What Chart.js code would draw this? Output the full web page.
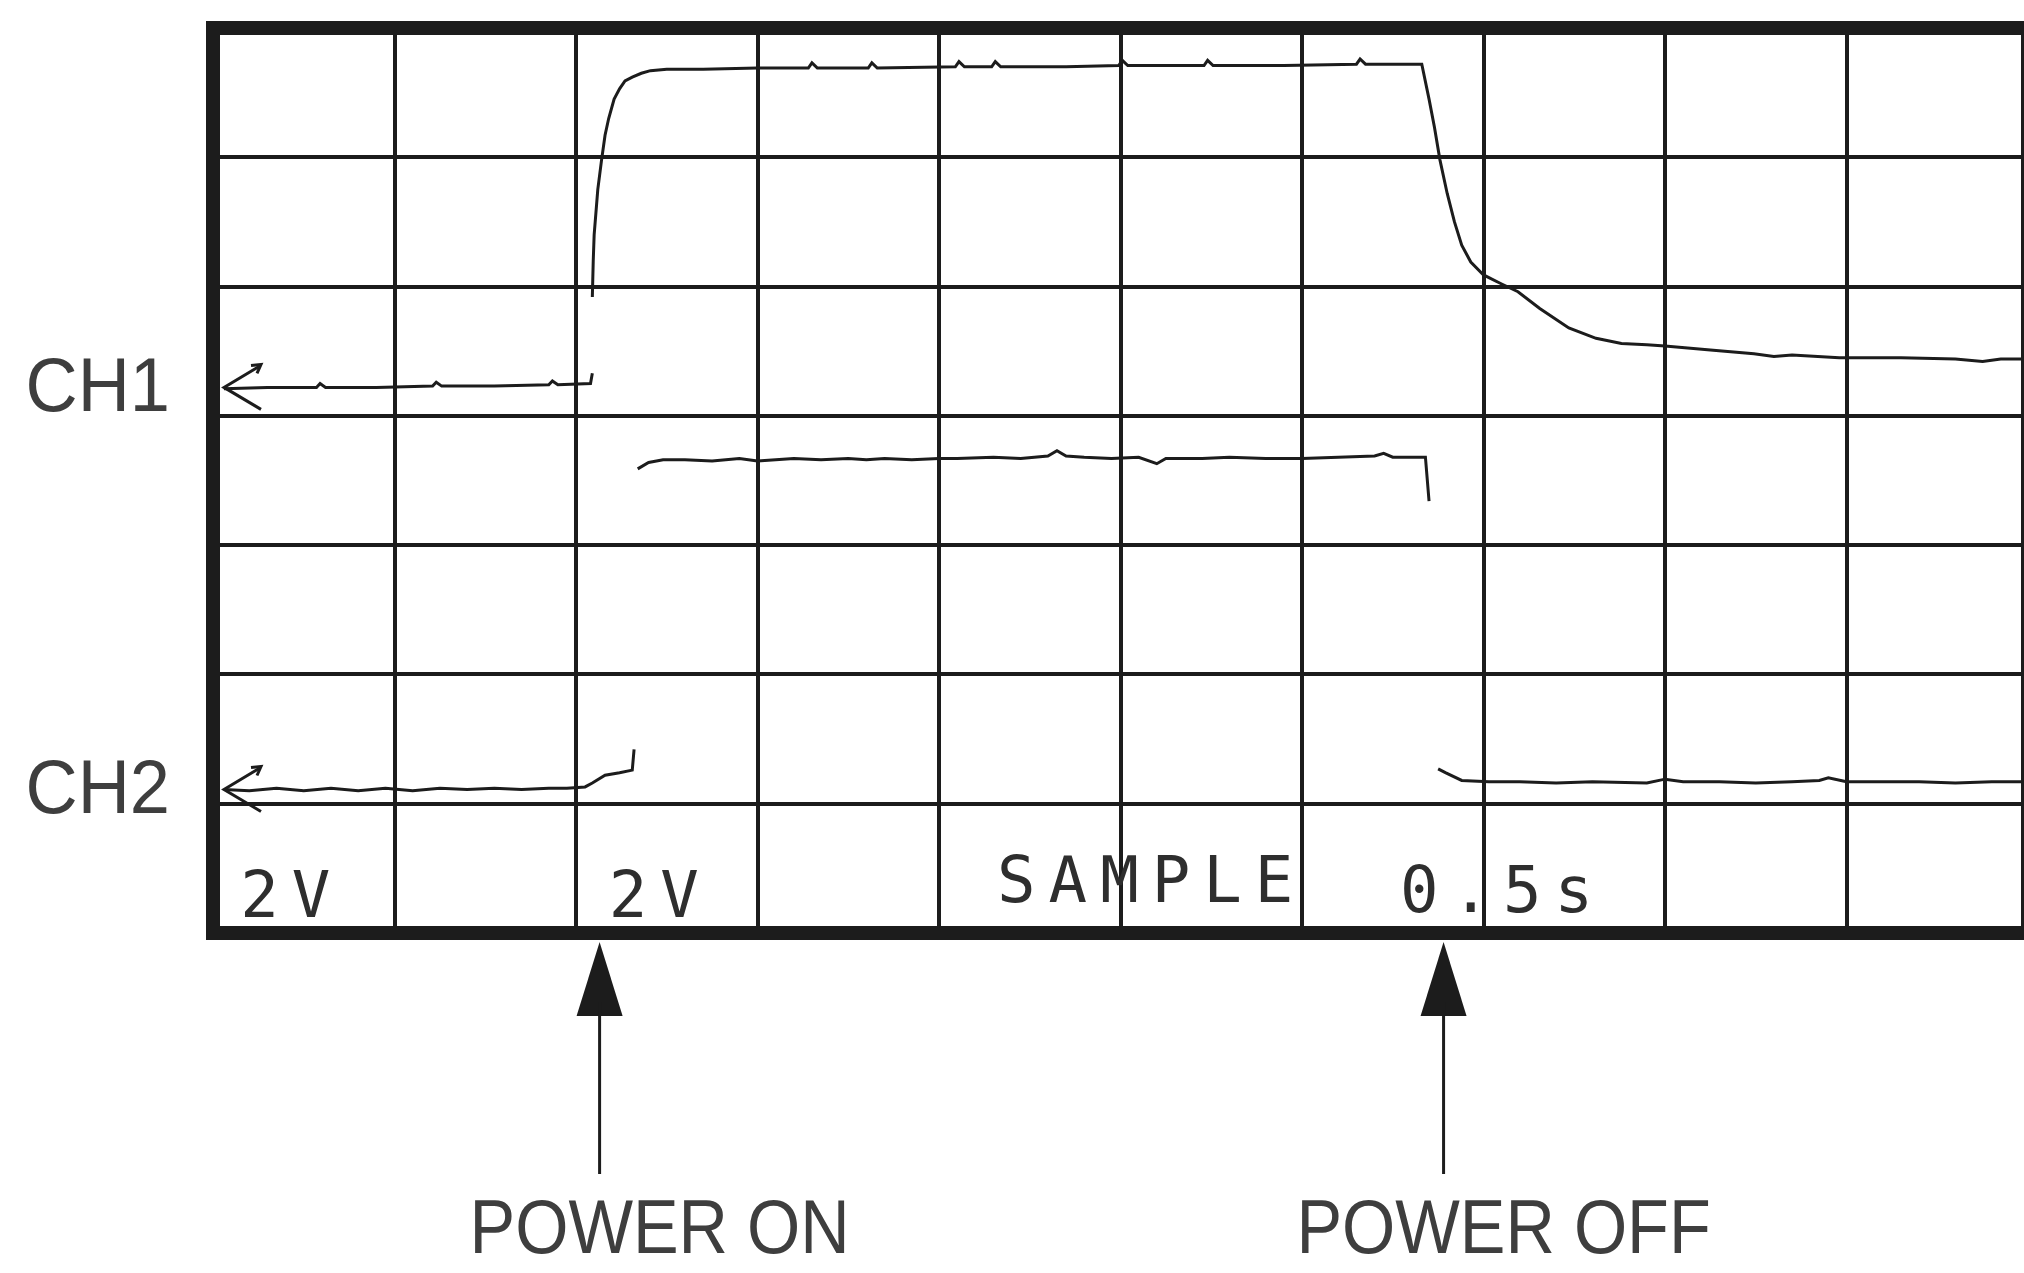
<!DOCTYPE html>
<html><head><meta charset="utf-8">
<script src="https://cdn.jsdelivr.net/npm/chart.js@4.4.1/dist/chart.umd.min.js"></script>
<style>
html,body{margin:0;padding:0;background:#fff;overflow:hidden;}
#wrap{width:2060px;height:1273px;position:relative;}
</style></head>
<body><div id="wrap"><canvas id="c"></canvas></div>
<script>
// ---- data (x in horizontal divisions, y in vertical divisions) ----
const ch1X = [0.06,0.3,0.57,0.59,0.62,0.9,1.21,1.23,1.26,1.55,1.85,1.87,1.90,2.08,2.09,
  2.09,
  2.09,2.095,2.10,2.12,2.14,2.16,2.18,2.21,2.24,2.27,2.31,2.36,2.41,2.5,2.7,
  3.0,3.28,3.30,3.33,3.61,3.63,3.66,4.09,4.11,4.14,4.29,4.31,4.34,4.7,4.99,5.01,5.04,5.46,5.48,5.51,5.9,6.30,6.32,6.35,6.66,
  6.70,6.73,6.76,6.80,6.84,6.88,6.93,7.0,7.1,7.19,7.31,7.47,7.62,7.76,7.90,8.0,8.25,8.49,8.6,8.7,8.96,9.3,9.6,9.75,9.85,10.0];
const ch1Y = [4.21,4.22,4.22,4.25,4.22,4.22,4.23,4.26,4.23,4.23,4.24,4.27,4.24,4.25,4.33,
  null,
  4.92,5.20,5.40,5.75,5.97,6.17,6.30,6.45,6.53,6.59,6.62,6.65,6.67,6.68,6.68,
  6.69,6.69,6.73,6.69,6.69,6.73,6.69,6.70,6.74,6.70,6.70,6.74,6.70,6.70,6.71,6.75,6.71,6.71,6.75,6.71,6.71,6.72,6.76,6.72,6.72,
  6.45,6.23,5.98,5.72,5.50,5.32,5.19,5.09,5.02,4.96,4.83,4.68,4.60,4.56,4.55,4.54,4.51,4.48,4.46,4.47,4.45,4.45,4.44,4.42,4.44,4.44];

const ch2X = [0.06,0.2,0.35,0.5,0.65,0.8,0.95,1.1,1.25,1.4,1.55,1.7,1.85,1.95,2.05,2.09,2.16,2.24,2.31,2.32,
  2.33,
  2.34,2.40,2.48,2.6,2.75,2.9,3.0,3.1,3.2,3.35,3.5,3.6,3.7,3.85,4.0,4.1,4.3,4.45,4.6,4.65,4.7,4.8,4.95,5.1,5.2,5.25,5.45,5.6,5.8,6.0,6.2,6.4,6.45,6.5,6.68,6.70,
  6.72,
  6.75,6.79,6.88,7.03,7.2,7.4,7.6,7.9,8.0,8.1,8.3,8.5,8.7,8.85,8.9,9.0,9.2,9.4,9.6,9.8,10.0];
const ch2Y = [1.11,1.10,1.12,1.10,1.12,1.10,1.12,1.10,1.12,1.11,1.12,1.11,1.12,1.12,1.13,1.16,1.22,1.24,1.26,1.42,
  null,
  3.59,3.64,3.66,3.66,3.65,3.67,3.65,3.66,3.67,3.66,3.67,3.66,3.67,3.66,3.67,3.67,3.68,3.67,3.69,3.73,3.69,3.68,3.67,3.68,3.63,3.67,3.67,3.68,3.67,3.67,3.68,3.69,3.71,3.68,3.68,3.34,
  null,
  1.27,1.24,1.18,1.17,1.17,1.16,1.17,1.16,1.19,1.17,1.17,1.16,1.17,1.18,1.20,1.17,1.17,1.17,1.16,1.17,1.17];

const channelNames = ['CH1','CH2'];
const channelGround = [4.22, 1.11];
const eventNames = ['POWER ON','POWER OFF'];
const eventX = [2.13, 6.78];
const readoutText = ['2V','2V','SAMPLE','0.5s'];
const readoutX = [0.15, 2.18, 4.32, 6.54];
const readoutY = [0.12, 0.12, 0.24, 0.16];
const xTicks = [0,1,2,3,4,5,6,7,8,9,10];
const yTicks = [0,1,2,3,4,5,6,7];

// ---- styles ----
const INK = '#1c1c1c';
const LABEL = '#3e3e3e';

const toPts = (xs, ys) => xs.map((x, i) => ({x: x, y: ys[i]}));

const decor = {
  id: 'scopeDecor',
  afterDatasetsDraw(chart) {
    const {ctx, chartArea: a, scales: {x, y}} = chart;
    ctx.save();
    // frame
    ctx.strokeStyle = INK;
    ctx.lineWidth = 14;
    ctx.lineJoin = 'miter';
    ctx.strokeRect(a.left, a.top, a.right - a.left, a.bottom - a.top);

    // ground markers + channel names
    channelGround.forEach((g, i) => {
      const py = y.getPixelForValue(g);
      ctx.strokeStyle = INK;
      ctx.lineWidth = 3;
      ctx.beginPath();
      ctx.moveTo(a.left + 46, py - 21);
      ctx.lineTo(a.left + 11, py);
      ctx.lineTo(a.left + 48, py + 22);
      ctx.stroke();
      ctx.beginPath();
      ctx.moveTo(a.left + 38, py - 22);
      ctx.lineTo(a.left + 48, py - 23);
      ctx.lineTo(a.left + 44, py - 14);
      ctx.stroke();
      ctx.save();
      ctx.fillStyle = LABEL;
      ctx.font = '76px "Liberation Sans", Arial, sans-serif';
      ctx.textAlign = 'right';
      ctx.textBaseline = 'alphabetic';
      ctx.translate(a.left - 43, py + 24);
      ctx.scale(0.95, 1);
      ctx.fillText(channelNames[i], 0, 0);
      ctx.restore();
    });

    // scope readouts
    ctx.fillStyle = '#2e2e2e';
    ctx.font = '64px "DejaVu Sans Mono", monospace';
    ctx.textAlign = 'left';
    ctx.textBaseline = 'alphabetic';
    ctx.letterSpacing = '13px';
    readoutText.forEach((t, i) => {
      ctx.fillText(t, x.getPixelForValue(readoutX[i]), y.getPixelForValue(readoutY[i]));
    });
    ctx.letterSpacing = '0px';

    // event arrows + labels
    eventX.forEach((ev, i) => {
      const px = x.getPixelForValue(ev);
      const tip = a.bottom + 9;
      ctx.fillStyle = INK;
      ctx.beginPath();
      ctx.moveTo(px, tip);
      ctx.lineTo(px - 23, tip + 74);
      ctx.lineTo(px + 23, tip + 74);
      ctx.closePath();
      ctx.fill();
      ctx.strokeStyle = INK;
      ctx.lineWidth = 3;
      ctx.beginPath();
      ctx.moveTo(px, tip + 60);
      ctx.lineTo(px, tip + 232);
      ctx.stroke();
      ctx.save();
      ctx.fillStyle = LABEL;
      ctx.font = '76px "Liberation Sans", Arial, sans-serif';
      ctx.textAlign = 'center';
      ctx.textBaseline = 'alphabetic';
      ctx.translate(px + 60, a.bottom + 320);
      ctx.scale(0.9, 1);
      ctx.fillText(eventNames[i], 0, 0);
      ctx.restore();
    });
    ctx.restore();
  }
};

new Chart(document.getElementById('c'), {
  type: 'line',
  data: {
    datasets: [
      {label: 'CH1', data: toPts(ch1X, ch1Y), borderColor: INK, borderWidth: 3, pointRadius: 0, tension: 0, spanGaps: false, fill: false},
      {label: 'CH2', data: toPts(ch2X, ch2Y), borderColor: INK, borderWidth: 3, pointRadius: 0, tension: 0, spanGaps: false, fill: false}
    ]
  },
  options: {
    responsive: true,
    maintainAspectRatio: false,
    animation: false,
    layout: {padding: {left: 213, top: 28, right: 32, bottom: 340}},
    plugins: {legend: {display: false}, tooltip: {enabled: false}},
    scales: {
      x: {
        type: 'linear', min: xTicks[0], max: xTicks[xTicks.length - 1],
        afterBuildTicks: s => { s.ticks = xTicks.map(v => ({value: v})); },
        ticks: {display: false},
        grid: {color: INK, lineWidth: 4, drawTicks: false},
        border: {display: false}
      },
      y: {
        type: 'linear', min: yTicks[0], max: yTicks[yTicks.length - 1],
        afterBuildTicks: s => { s.ticks = yTicks.map(v => ({value: v})); },
        ticks: {display: false},
        grid: {color: INK, lineWidth: 4, drawTicks: false},
        border: {display: false}
      }
    }
  },
  plugins: [decor]
});
</script>
</body></html>
